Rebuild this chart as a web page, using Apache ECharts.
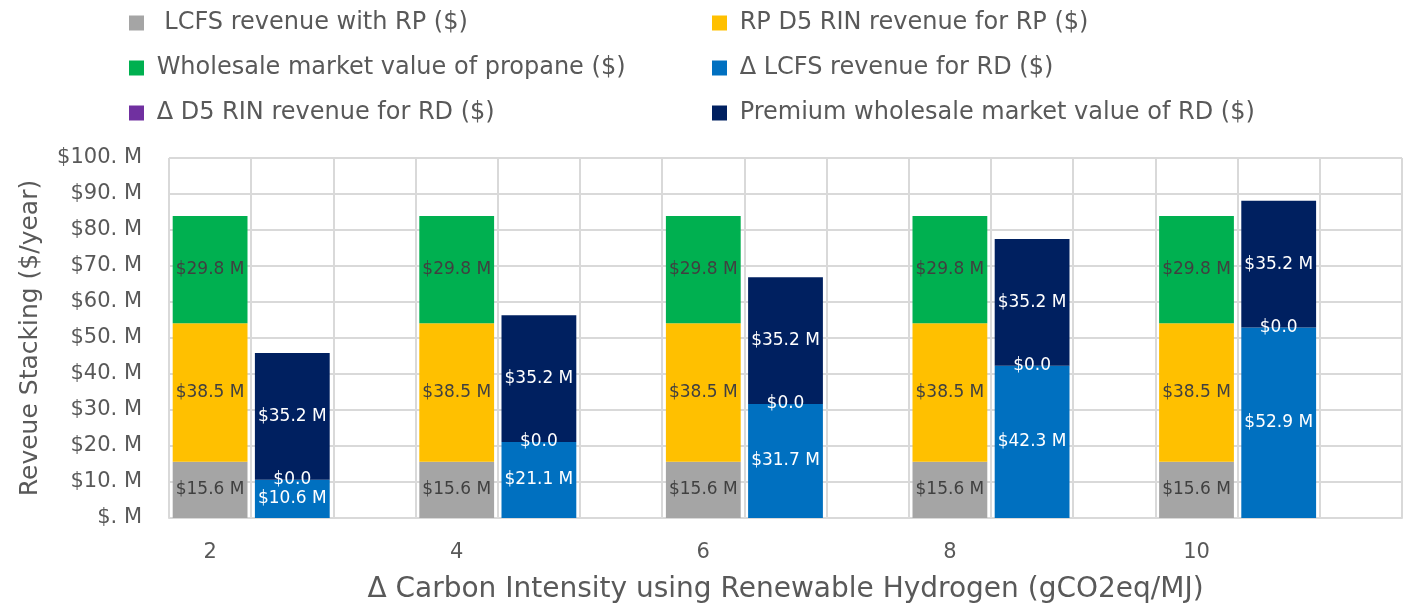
<!DOCTYPE html>
<html>
<head>
<meta charset="utf-8">
<script src="https://cdn.jsdelivr.net/npm/echarts@6/dist/echarts.min.js"></script>
<style>
  html, body { margin: 0; padding: 0; background: #fff; }
  #main { width: 1408px; height: 610px; }
</style>
</head>
<body>
<div id="main"></div>
<script>
// 数据
var ciValues = ['2', '4', '6', '8', '10'];
var lcfsRP = [15.6, 15.6, 15.6, 15.6, 15.6];
var rinRP = [38.5, 38.5, 38.5, 38.5, 38.5];
var propaneRP = [29.8, 29.8, 29.8, 29.8, 29.8];
var dLcfsRD = [10.6, 21.1, 31.7, 42.3, 52.9];
var dRinRD = [0, 0, 0, 0, 0];
var premiumRD = [35.2, 35.2, 35.2, 35.2, 35.2];
var yTicks = [0, 10, 20, 30, 40, 50, 60, 70, 80, 90, 100];

var FONT = 'DejaVu Sans';

// 每组三列: RP 柱, RD 柱, 空列
var slots = [];
ciValues.forEach(function (c) {
  slots.push(c, c + '_rd', c + '_gap');
});

function spread(arr, pos) {
  var out = [];
  arr.forEach(function (v) {
    for (var k = 0; k < 3; k++) out.push(k === pos ? v : '-');
  });
  return out;
}

function mkSeries(name, arr, pos, color, labelColor, fmt) {
  return {
    name: name,
    type: 'bar',
    stack: 'all',
    barCategoryGap: '9%',
    data: spread(arr, pos),
    itemStyle: { color: color },
    label: {
      show: true,
      position: 'inside',
      color: labelColor,
      fontFamily: FONT,
      fontSize: 17,
      formatter: fmt
    }
  };
}

var fmtM = function (p) { return '$' + p.value.toFixed(1) + ' M'; };
var fmt0 = function (p) { return '$' + p.value.toFixed(1); };

var myChart = echarts.init(document.getElementById('main'));

var legendText = { fontFamily: FONT, fontSize: 24, color: '#595959', lineHeight: 26 };

var option = {
  animation: false,
  legend: [
    {
      left: 124, top: 5, orient: 'vertical', itemGap: 19,
      itemWidth: 15, itemHeight: 15, icon: 'rect',
      data: [' LCFS revenue with RP ($)', 'Wholesale market value of propane ($)', '\u0394 D5 RIN revenue for RD ($)'],
      formatter: function (n) { return ' ' + n; },
      textStyle: legendText
    },
    {
      left: 707, top: 5, orient: 'vertical', itemGap: 19,
      itemWidth: 15, itemHeight: 15, icon: 'rect',
      data: ['RP D5 RIN revenue for RP ($)', '\u0394 LCFS revenue for RD ($)', 'Premium wholesale market value of RD ($)'],
      formatter: function (n) { return ' ' + n; },
      textStyle: legendText
    }
  ],
  grid: { left: 169, right: 6, top: 158, bottom: 92 },
  xAxis: {
    type: 'category',
    data: slots,
    name: '\u0394 Carbon Intensity using Renewable Hydrogen (gCO2eq/MJ)',
    nameLocation: 'middle',
    nameGap: 58,
    nameTextStyle: { fontFamily: FONT, fontSize: 28, color: '#595959' },
    axisLine: { show: true, lineStyle: { color: '#d9d9d9', width: 2 } },
    axisTick: { show: false },
    axisLabel: {
      interval: 0,
      margin: 24,
      fontFamily: FONT,
      fontSize: 21,
      color: '#595959',
      formatter: function (v) { return ciValues.indexOf(v) >= 0 ? v : ''; }
    },
    splitLine: { show: true, interval: 0, lineStyle: { color: '#d9d9d9', width: 2 } }
  },
  yAxis: {
    type: 'value',
    min: yTicks[0],
    max: yTicks[yTicks.length - 1],
    interval: 10,
    name: 'Reveue Stacking ($/year)',
    nameLocation: 'middle',
    nameGap: 126,
    nameTextStyle: { fontFamily: FONT, fontSize: 25, color: '#595959' },
    axisLine: { show: false },
    axisTick: { show: false },
    axisLabel: {
      margin: 27,
      fontFamily: FONT,
      fontSize: 21,
      color: '#595959',
      formatter: function (v) { return '$' + (v === 0 ? '' : v) + '. M'; }
    },
    splitLine: { show: true, lineStyle: { color: '#d9d9d9', width: 2 } }
  },
  series: [
    mkSeries(' LCFS revenue with RP ($)', lcfsRP, 0, '#A5A5A5', '#404040', fmtM),
    mkSeries('RP D5 RIN revenue for RP ($)', rinRP, 0, '#FFC000', '#404040', fmtM),
    mkSeries('Wholesale market value of propane ($)', propaneRP, 0, '#00B050', '#404040', fmtM),
    mkSeries('\u0394 LCFS revenue for RD ($)', dLcfsRD, 1, '#0070C0', '#ffffff', fmtM),
    mkSeries('\u0394 D5 RIN revenue for RD ($)', dRinRD, 1, '#7030A0', '#ffffff', fmt0),
    mkSeries('Premium wholesale market value of RD ($)', premiumRD, 1, '#002060', '#ffffff', fmtM)
  ]
};

myChart.setOption(option);
</script>
</body>
</html>
